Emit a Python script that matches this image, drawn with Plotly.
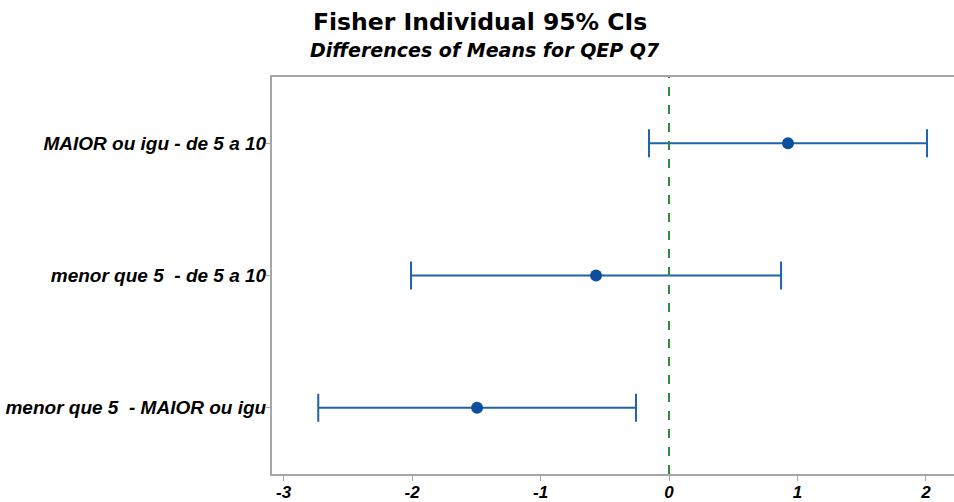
import plotly.graph_objects as go

categories = ["menor que 5\u00a0 - MAIOR ou igu", "menor que 5\u00a0 - de 5 a 10", "MAIOR ou igu - de 5 a 10"]
diff = [-1.494, -0.568, 0.926]
lower = [-2.73, -2.008, -0.156]
upper = [-0.257, 0.872, 2.008]
x_ticks = [-3, -2, -1, 0, 1, 2]

err_plus = [u - d for u, d in zip(upper, diff)]
err_minus = [d - l for d, l in zip(diff, lower)]

W, H = 954, 502
ML, MR, MT, MB = 272, 0, 77, 28

fig = go.Figure()
fig.add_trace(go.Scatter(
    x=diff, y=list(range(len(categories))), mode="markers",
    marker=dict(color="#0b4f9e", size=12),
    error_x=dict(type="data", symmetric=False, array=err_plus, arrayminus=err_minus,
                 color="#1f63ad", thickness=2, width=14),
    showlegend=False, hoverinfo="x+y"))

fig.add_shape(type="line", xref="x", yref="paper", x0=0, x1=0, y0=0, y1=1,
              line=dict(color="#2e8b3e", width=2, dash="dash"))

ytickfont = dict(family="Liberation Sans, Arial", size=19, color="black", weight="bold", style="italic")
xtickfont = dict(family="Liberation Sans, Arial", size=17, color="black", weight="bold", style="italic")
fig.update_xaxes(range=[-3.09, 2.218], tickvals=x_ticks, ticktext=[str(v) for v in x_ticks],
                 showgrid=False, zeroline=False, showline=True, linecolor="#a6a6a6", linewidth=2,
                 mirror=True, ticks="outside", ticklen=5, tickcolor="#a6a6a6", tickwidth=1,
                 tickfont=xtickfont, automargin=False, ticklabelstandoff=-3)
fig.update_yaxes(range=[-0.5, 2.5], tickvals=list(range(len(categories))), ticktext=categories,
                 showgrid=False, zeroline=False, showline=True, linecolor="#a6a6a6", linewidth=2,
                 mirror=False, ticks="outside", ticklen=4, tickcolor="#a6a6a6", tickwidth=1,
                 tickfont=ytickfont, automargin=False, ticklabelstandoff=-4)

plot_w = W - ML - MR
plot_h = H - MT - MB

def px_x(x):
    return (x - ML) / plot_w

def px_y(y):
    return (H - MB - y) / plot_h

fig.update_layout(
    width=W, height=H, plot_bgcolor="white", paper_bgcolor="white",
    margin=dict(l=ML, r=MR, t=MT, b=MB, autoexpand=False),
    annotations=[
        dict(text="<b>Fisher Individual 95% CIs</b>", x=px_x(480), y=px_y(22), xref="paper", yref="paper",
             xanchor="center", yanchor="middle", showarrow=False,
             font=dict(family="DejaVu Sans", size=23.5, color="black")),
        dict(text="<b><i>Differences of Means for QEP Q7</i></b>", x=px_x(485), y=px_y(50), xref="paper", yref="paper",
             xanchor="center", yanchor="middle", showarrow=False,
             font=dict(family="DejaVu Sans", size=19, color="black")),
    ],
)

fig.write_html(
    "out.html",
    config={"displayModeBar": False, "responsive": False},
    post_script="document.body.style.margin='0';document.body.style.padding='0';document.body.style.overflow='hidden';",
)
